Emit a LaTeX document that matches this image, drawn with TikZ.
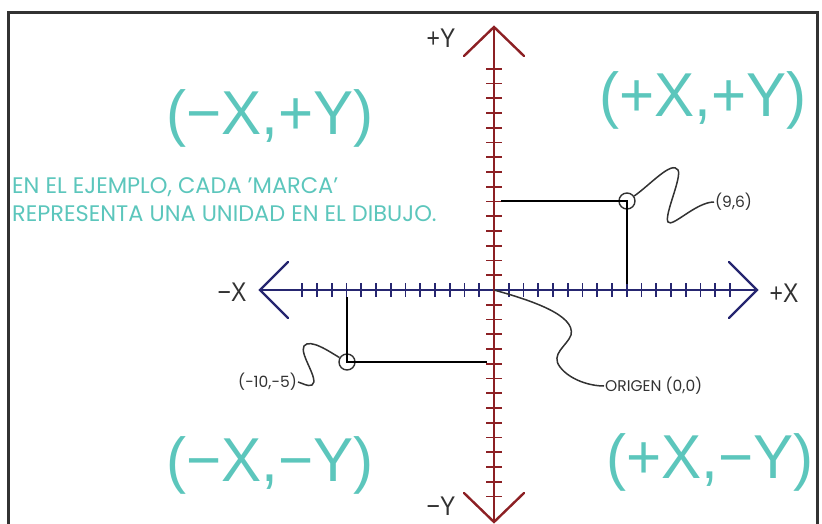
\documentclass[tikz,border=0pt]{standalone}
\usepackage{xcolor}
\usepackage{fontspec}
\usepackage{tikz}
\usetikzlibrary{positioning, calc}
\setmainfont{Poppins}
\newfontfamily\axisfont[FakeStretch=0.85]{Liberation Sans}
\newfontfamily\quadfont[FakeStretch=0.97]{Liberation Sans}
\definecolor{QuadTeal}{RGB}{92,198,188}
\definecolor{AxisNavy}{RGB}{38,38,112}
\definecolor{AxisRed}{RGB}{140,32,36}
\definecolor{InkGray}{RGB}{50,50,50}
\newcommand{\sq}{\char"0027\relax}

\begin{document}
\begin{tikzpicture}[
  x=1pt, y=-1pt,
  quad/.style={font=\quadfont\fontsize{62}{62}\selectfont, QuadTeal, inner sep=0pt},
  note/.style={font=\fontsize{22.5}{28}\selectfont, QuadTeal, align=left, inner sep=0pt},
  axislabel/.style={font=\axisfont\fontsize{27}{27}\selectfont, InkGray, inner sep=0pt},
  ptlabel/.style={font=\fontsize{15.5}{15.5}\selectfont, InkGray, inner sep=1pt},
  xaxis/.style={AxisNavy, line width=2.4pt, line cap=round},
  yaxis/.style={AxisRed, line width=2.4pt, line cap=round},
  xtick/.style={AxisNavy, line width=1.6pt},
  ytick/.style={AxisRed, line width=1.6pt},
  refline/.style={black, line width=2.6pt},
  leader/.style={InkGray, line width=1.5pt},
  markcirc/.style={circle, draw=InkGray, line width=1.4pt, minimum size=16pt, inner sep=0pt}
]
\useasboundingbox (0,0) rectangle (822,524);

% Frame
\draw[InkGray, line width=3pt] (8,524) -- (8,13) -- (817,13) -- (817,524);

% Axis end points
\coordinate (O) at (494,290);
\coordinate (xl) at (260,290);
\coordinate (xr) at (757,290);
\coordinate (yt) at (494,27);
\coordinate (yb) at (494,522);

% Ticks, one per unit
\foreach \i in {1,...,13} \draw[xtick] (494-14.75*\i,283) -- ++(0,14);
\foreach \i in {1,...,16} \draw[xtick] (494+14.75*\i,283) -- ++(0,14);
\foreach \i in {1,...,15} \draw[ytick] (486,290-14.75*\i) -- ++(16,0);
\foreach \i in {1,...,14} \draw[ytick] (486,290+14.75*\i) -- ++(16,0);

% Axes
\draw[xaxis] (xl) -- (xr);
\draw[yaxis] (yt) -- (yb);
\draw[xaxis] (xl) ++(28,-28) -- (xl) -- ++(28,28);
\draw[xaxis] (xr) ++(-28,-28) -- (xr) -- ++(-28,28);
\draw[yaxis] (yt) ++(-30,29) -- (yt) -- ++(30,29);
\draw[yaxis] (yb) ++(-30,-29) -- (yb) -- ++(30,-29);

\node[axislabel] (py) at (441,38) {+Y};
\node[axislabel] (my) at (441,506) {−Y};
\node[axislabel] (mx) at (232,292) {−X};
\node[axislabel] (px) at (784,293) {+X};

% Quadrant labels
\node[quad] (q2) at (270,118) {(−X,+Y)};
\node[quad] (q1) at (703,100) {(+X,+Y)};
\node[quad] (q3) at (270,465) {(−X,−Y)};
\node[quad] (q4) at (710,462) {(+X,−Y)};

% Note
\node[note, anchor=base west] (note) at (12,221) {EN EL EJEMPLO, CADA \sq MARCA\sq\\REPRESENTA UNA UNIDAD EN EL DIBUJO.};

% Point (9,6)
\node[markcirc] (P) at (627,201) {};
\coordinate (Py) at (501,201);
\coordinate (Px) at (627,284);
\draw[refline] (Py) -- (P.center) -- (Px);
\node[ptlabel, anchor=west] (labP) at (714,202) {(9,6)};
\draw[leader] (P) .. controls (650,185) and (672,160) .. (678,170)
  .. controls (682,178) and (664,215) .. (668,222)
  .. controls (672,228) and (696,202) .. (labP.west);

% Point (-10,-5)
\node[markcirc] (Q) at (347,362) {};
\coordinate (Qx) at (347,297);
\coordinate (Qy) at (487,362);
\draw[refline] (Qx) -- (Q.center) -- (Qy);
\node[ptlabel, anchor=east] (labQ) at (298,382) {(−10,−5)};
\draw[leader] (Q) .. controls (330,352) and (310,338) .. (304,346)
  .. controls (299,354) and (320,380) .. (312,385)
  .. controls (308,387) and (302,383) .. (labQ.east);

% Origin
\node[ptlabel, anchor=west] (labO) at (604,386) {ORIGEN (0,0)};
\draw[leader] (O) .. controls (530,300) and (576,315) .. (571,335)
  .. controls (567,346) and (550,354) .. (560,367)
  .. controls (570,380) and (590,386) .. (labO.west);

\end{tikzpicture}
\end{document}
